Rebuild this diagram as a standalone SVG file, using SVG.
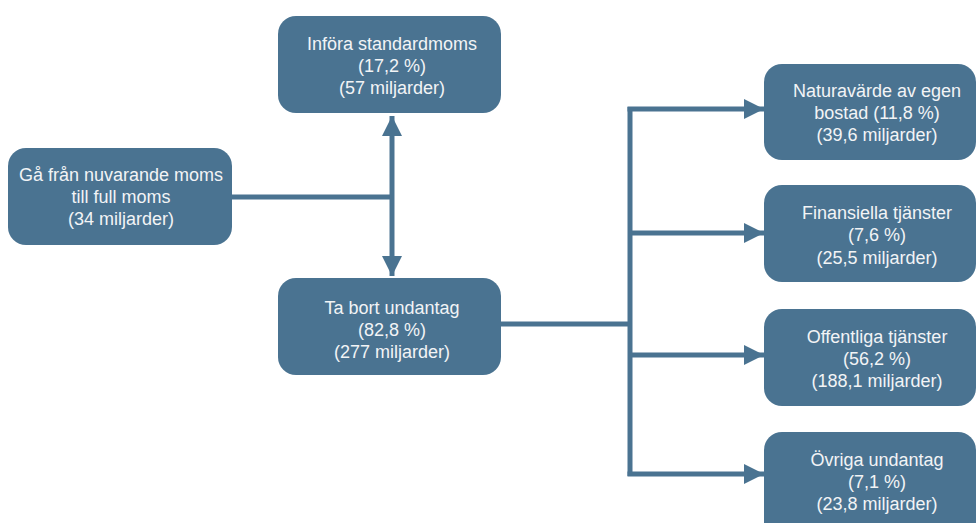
<svg xmlns="http://www.w3.org/2000/svg" width="977" height="523" viewBox="0 0 977 523">
<style>
.box{fill:#4a7391;}
.t{font-family:"Liberation Sans",Arial,sans-serif;font-size:18px;fill:#f2f4f6;text-anchor:middle;}
.ln{stroke:#4a7391;stroke-width:5;fill:none;}
</style>
<defs>
<marker id="ah" markerWidth="4" markerHeight="4" viewBox="0 0 20 20" refX="20" refY="10" orient="auto" markerUnits="strokeWidth">
<path d="M0,0 L20,10 L0,20 Z" fill="#4a7391"/>
</marker>
</defs>
<rect width="977" height="523" fill="#ffffff"/>
<g id="connectors">
<path class="ln" d="M232,197 H392"/>
<path class="ln" d="M392,197 V116" marker-end="url(#ah)"/>
<path class="ln" d="M392,197 V276" marker-end="url(#ah)"/>
<path class="ln" d="M501,324 H630"/>
<path class="ln" d="M630,107 V476"/>
<path class="ln" d="M627.5,109 H764" marker-end="url(#ah)"/>
<path class="ln" d="M630,233 H764" marker-end="url(#ah)"/>
<path class="ln" d="M630,355 H764" marker-end="url(#ah)"/>
<path class="ln" d="M627.5,474 H764" marker-end="url(#ah)"/>
</g>
<g id="n-standardmoms">
<rect class="box" x="278" y="16" width="223" height="97" rx="18"/>
<text class="t"><tspan x="392" y="50">Införa standardmoms</tspan><tspan x="392" y="72">(17,2 %)</tspan><tspan x="392" y="94">(57 miljarder)</tspan></text>
</g>
<g id="n-fullmoms">
<rect class="box" x="8" y="148" width="224" height="97" rx="18"/>
<text class="t"><tspan x="121" y="181">Gå från nuvarande moms</tspan><tspan x="121" y="203">till full moms</tspan><tspan x="121" y="225">(34 miljarder)</tspan></text>
</g>
<g id="n-undantag">
<rect class="box" x="278" y="278" width="223" height="97" rx="18"/>
<text class="t"><tspan x="392" y="314">Ta bort undantag</tspan><tspan x="392" y="336">(82,8 %)</tspan><tspan x="392" y="358">(277 miljarder)</tspan></text>
</g>
<g id="n-naturavarde">
<rect class="box" x="764" y="64" width="212" height="96" rx="18"/>
<text class="t"><tspan x="877" y="97">Naturavärde av egen</tspan><tspan x="877" y="119">bostad (11,8 %)</tspan><tspan x="877" y="141">(39,6 miljarder)</tspan></text>
</g>
<g id="n-finansiella">
<rect class="box" x="764" y="185" width="212" height="97" rx="18"/>
<text class="t"><tspan x="877" y="219">Finansiella tjänster</tspan><tspan x="877" y="241">(7,6 %)</tspan><tspan x="877" y="264">(25,5 miljarder)</tspan></text>
</g>
<g id="n-offentliga">
<rect class="box" x="764" y="309" width="212" height="97" rx="18"/>
<text class="t"><tspan x="877" y="343">Offentliga tjänster</tspan><tspan x="877" y="365">(56,2 %)</tspan><tspan x="877" y="387">(188,1 miljarder)</tspan></text>
</g>
<g id="n-ovriga">
<rect class="box" x="764" y="432" width="212" height="110" rx="18"/>
<text class="t"><tspan x="877" y="466">Övriga undantag</tspan><tspan x="877" y="488">(7,1 %)</tspan><tspan x="877" y="510">(23,8 miljarder)</tspan></text>
</g>
</svg>
